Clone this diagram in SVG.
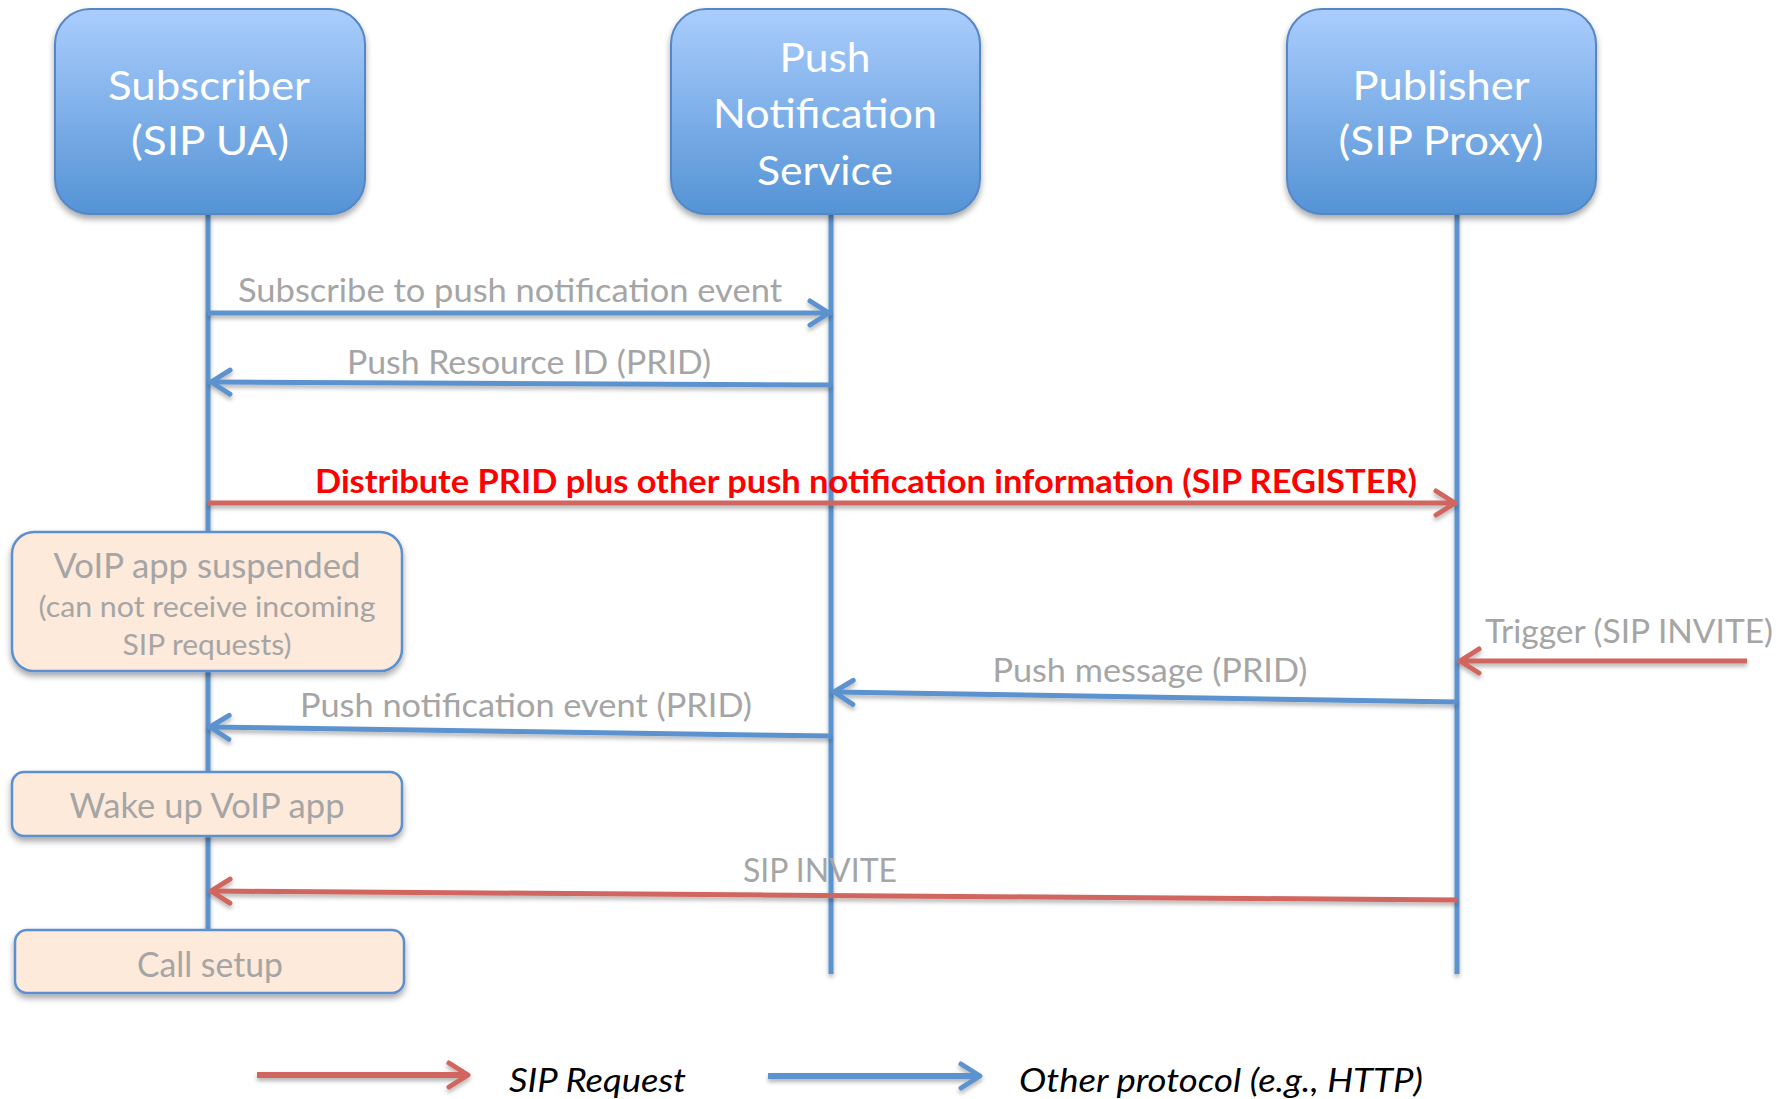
<svg xmlns="http://www.w3.org/2000/svg" width="1783" height="1099" viewBox="0 0 1783 1099">
<defs>
<linearGradient id="hdr" x1="0" y1="0" x2="0" y2="1">
<stop offset="0" stop-color="#aacdfd"/>
<stop offset="1" stop-color="#5493d5"/>
</linearGradient>
<filter id="sh" x="-10%" y="-10%" width="120%" height="130%">
<feDropShadow dx="0" dy="4" stdDeviation="3" flood-color="#000" flood-opacity="0.35"/>
</filter>
<filter id="lsh" filterUnits="userSpaceOnUse" x="0" y="0" width="1783" height="1099">
<feDropShadow dx="0" dy="3" stdDeviation="2" flood-color="#000" flood-opacity="0.3"/>
</filter>
<marker id="ab" viewBox="-24 -16 28 32" refX="0" refY="0" markerWidth="28" markerHeight="32" markerUnits="userSpaceOnUse" orient="auto">
<path d="M -19,-12 L 0,0 L -19,12" fill="none" stroke="#5b93cf" stroke-width="5" stroke-linecap="round" stroke-linejoin="round"/>
</marker>
<marker id="ar" viewBox="-24 -16 28 32" refX="0" refY="0" markerWidth="28" markerHeight="32" markerUnits="userSpaceOnUse" orient="auto">
<path d="M -19,-12 L 0,0 L -19,12" fill="none" stroke="#d0665f" stroke-width="5" stroke-linecap="round" stroke-linejoin="round"/>
</marker>
</defs>
<style>
.hbox{fill:url(#hdr);stroke:#5687c4;stroke-width:2;filter:url(#sh)}
.htxt{font-family:Lato,"Liberation Sans",sans-serif;font-size:40px;fill:#ffffff;text-anchor:middle}
.nbox{fill:#fdeadb;stroke:#5b8fcd;stroke-width:2.5;filter:url(#sh)}
.ntxt{font-family:Lato,"Liberation Sans",sans-serif;font-size:35px;fill:#a5a5a5;text-anchor:middle}
.nsm{font-size:28px}
.life{stroke:#5b93cf;stroke-width:5;fill:none;filter:url(#lsh)}
.mb{stroke:#5b93cf;stroke-width:5;fill:none;marker-end:url(#ab);filter:url(#lsh)}
.mr{stroke:#d0665f;stroke-width:5;fill:none;marker-end:url(#ar);filter:url(#lsh)}
.lbl{font-family:Lato,"Liberation Sans",sans-serif;font-size:33px;fill:#a5a5a5;text-anchor:middle}
.red{font-weight:bold;fill:#ff0000}
.leg{font-family:Lato,"Liberation Sans",sans-serif;font-size:32px;font-style:italic;fill:#000000}
</style>
<rect width="1783" height="1099" fill="#ffffff"/>
<g id="lifelines">
<line class="life" x1="208" y1="214" x2="208" y2="932"/>
<line class="life" x1="831" y1="214" x2="831" y2="974"/>
<line class="life" x1="1457" y1="214" x2="1457" y2="974"/>
</g>
<g id="subscriber">
<rect class="hbox" x="55" y="9" width="310" height="205" rx="35"/>
<text class="htxt" x="209" y="100" textLength="202" lengthAdjust="spacingAndGlyphs">Subscriber</text>
<text class="htxt" x="210" y="155" textLength="158" lengthAdjust="spacingAndGlyphs">(SIP UA)</text>
</g>
<g id="push-service">
<rect class="hbox" x="671" y="9" width="309" height="205" rx="35"/>
<text class="htxt" x="825" y="72" textLength="91" lengthAdjust="spacingAndGlyphs">Push</text>
<text class="htxt" x="825" y="128" textLength="224" lengthAdjust="spacingAndGlyphs">Notification</text>
<text class="htxt" x="825" y="185" textLength="136" lengthAdjust="spacingAndGlyphs">Service</text>
</g>
<g id="publisher">
<rect class="hbox" x="1287" y="9" width="309" height="205" rx="35"/>
<text class="htxt" x="1441" y="100" textLength="177" lengthAdjust="spacingAndGlyphs">Publisher</text>
<text class="htxt" x="1441" y="155" textLength="205" lengthAdjust="spacingAndGlyphs">(SIP Proxy)</text>
</g>
<g id="voip-suspended">
<rect class="nbox" x="12" y="532" width="390" height="139" rx="22"/>
<text class="ntxt" x="207" y="578" textLength="307" lengthAdjust="spacingAndGlyphs">VoIP app suspended</text>
<text class="ntxt nsm" x="207" y="617" textLength="337" lengthAdjust="spacingAndGlyphs">(can not receive incoming</text>
<text class="ntxt nsm" x="207" y="655" textLength="169" lengthAdjust="spacingAndGlyphs">SIP requests)</text>
</g>
<g id="wake-up">
<rect class="nbox" x="12" y="772" width="390" height="64" rx="12"/>
<text class="ntxt" x="207" y="818" textLength="275" lengthAdjust="spacingAndGlyphs">Wake up VoIP app</text>
</g>
<g id="call-setup">
<rect class="nbox" x="15" y="930" width="389" height="63" rx="12"/>
<text class="ntxt" x="210" y="977" textLength="146" lengthAdjust="spacingAndGlyphs">Call setup</text>
</g>
<g id="connectors">
<line class="mb" x1="208" y1="313" x2="829" y2="313"/>
<text class="lbl" x="510" y="302" textLength="544" lengthAdjust="spacingAndGlyphs">Subscribe to push notification event</text>
<line class="mb" x1="831" y1="385" x2="211" y2="382"/>
<text class="lbl" x="529" y="374" textLength="364" lengthAdjust="spacingAndGlyphs">Push Resource ID (PRID)</text>
<line class="mr" x1="208" y1="503" x2="1455" y2="503"/>
<text class="lbl red" x="866" y="493" textLength="1102" lengthAdjust="spacingAndGlyphs">Distribute PRID plus other push notification information (SIP REGISTER)</text>
<line class="mr" x1="1747" y1="661" x2="1460" y2="661"/>
<text class="lbl" x="1629" y="643" textLength="288" lengthAdjust="spacingAndGlyphs">Trigger (SIP INVITE)</text>
<line class="mb" x1="1457" y1="702" x2="834" y2="692"/>
<text class="lbl" x="1150" y="682" textLength="315" lengthAdjust="spacingAndGlyphs">Push message (PRID)</text>
<line class="mb" x1="831" y1="736" x2="210" y2="727"/>
<text class="lbl" x="526" y="717" textLength="452" lengthAdjust="spacingAndGlyphs">Push notification event (PRID)</text>
<line class="mr" x1="1457" y1="900" x2="211" y2="891"/>
<text class="lbl" x="820" y="882" textLength="154" lengthAdjust="spacingAndGlyphs">SIP INVITE</text>
</g>
<g id="legend">
<line class="mr" x1="257" y1="1075" x2="468" y2="1075" style="stroke-width:6"/>
<text class="leg" x="509" y="1092" textLength="177" lengthAdjust="spacingAndGlyphs">SIP Request</text>
<line class="mb" x1="768" y1="1076" x2="980" y2="1076" style="stroke-width:6"/>
<text class="leg" x="1019" y="1092" textLength="404" lengthAdjust="spacingAndGlyphs">Other protocol (e.g., HTTP)</text>
</g>
</svg>
